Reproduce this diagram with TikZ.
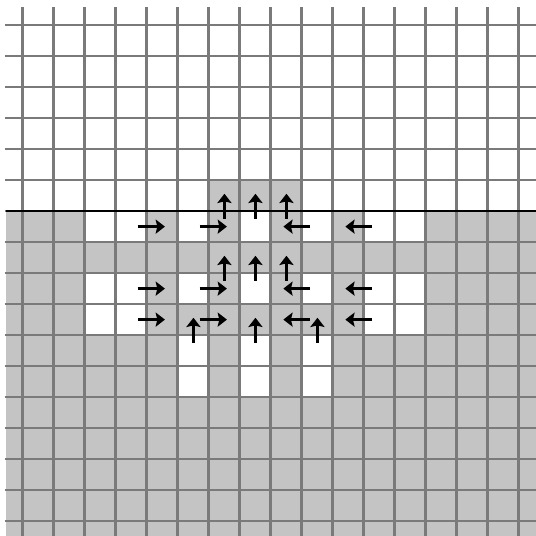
\documentclass[tikz,border=0pt]{standalone}
\usepackage{xcolor}
\usepackage{tikz}
\usetikzlibrary{arrows.meta}

\definecolor{cellgray}{RGB}{196,196,196}
\definecolor{linegray}{RGB}{122,122,122}

\begin{document}
\begin{tikzpicture}[
  x=1cm, y=-1cm,
  wetcell/.style  = {fill=cellgray},
  drycell/.style  = {fill=white},
  gridline/.style = {draw=linegray, line width=2.3pt},
  surface/.style  = {draw=black, line width=2.2pt},
  flow/.style     = {-{Stealth[length=8.5pt,width=13pt,inset=1.5pt]}, line width=3pt, black},
]
\useasboundingbox (-0.72,-0.81) rectangle (16.57,16.48);

%% ── Filled cells ──────────────────────────────────────────────────
\fill[wetcell] (-0.52,6) rectangle (16.57,16.48);
\fill[wetcell] (6,5) rectangle (9,6);
\foreach \c/\r in {2/6,3/6,5/6,7/6,9/6,11/6,12/6,
                   2/8,3/8,5/8,7/8,9/8,11/8,12/8,
                   2/9,3/9,11/9,12/9,
                   5/10,7/10,9/10,5/11,7/11,9/11}
  \fill[drycell] (\c,\r) rectangle ++(1,1);

%% ── Grid ──────────────────────────────────────────────────────────
\foreach \c in {0,...,16}
  \draw[gridline] (\c,-0.58) -- (\c,16.6);
\foreach \r in {0,...,16}
  \draw[gridline] (-0.56,\r) -- (16.7,\r);

\draw[surface] (-0.52,6) -- (16.7,6);

%% ── Flow arrows ───────────────────────────────────────────────────
\foreach \c/\r in {4/6,6/6,4/8,6/8,4/9,6/9}
  \draw[flow] (\c-0.28,\r+0.5) -- (\c+0.6,\r+0.5);
\foreach \c/\r in {8/6,10/6,8/8,10/8,8/9,10/9}
  \draw[flow] (\c+1.28,\r+0.5) -- (\c+0.42,\r+0.5);
\foreach \c/\r in {6/5,7/5,8/5,6/7,7/7,8/7,5/9,7/9,9/9}
  \draw[flow] (\c+0.52,\r+1.25) -- (\c+0.52,\r+0.44);

\end{tikzpicture}
\end{document}
